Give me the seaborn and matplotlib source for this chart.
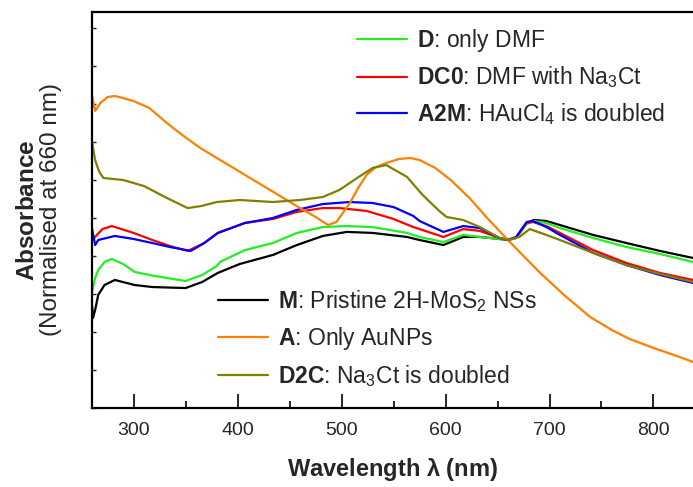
import numpy as np
import pandas as pd
import matplotlib
matplotlib.use("Agg")
import matplotlib.pyplot as plt
from matplotlib.lines import Line2D
from matplotlib.ticker import MultipleLocator, NullFormatter
import seaborn as sns

# ---- data (normalised absorbance, 1.0 at 660 nm) ----
wl_M = [260, 261, 263, 266, 272, 282, 301, 318, 350, 366, 381, 402, 434, 457, 482, 505, 530, 563, 575, 598, 617, 633, 652, 660, 668, 678, 685, 697, 710, 742, 774, 806, 838]
ab_M = [0.613, 0.536, 0.583, 0.673, 0.732, 0.762, 0.732, 0.720, 0.714, 0.750, 0.804, 0.857, 0.911, 0.970, 1.024, 1.048, 1.042, 1.018, 1.000, 0.970, 1.018, 1.018, 1.006, 1.000, 1.012, 1.101, 1.119, 1.113, 1.089, 1.030, 0.982, 0.935, 0.893]

wl_D = [260, 263, 266, 272, 279, 290, 301, 320, 350, 366, 380, 383, 407, 434, 457, 482, 505, 530, 563, 575, 598, 617, 633, 652, 660, 668, 678, 685, 697, 710, 742, 774, 806, 838]
ab_D = [0.690, 0.774, 0.821, 0.869, 0.887, 0.857, 0.810, 0.786, 0.756, 0.792, 0.845, 0.869, 0.940, 0.982, 1.042, 1.077, 1.083, 1.077, 1.042, 1.018, 0.988, 1.030, 1.018, 1.006, 1.000, 1.012, 1.095, 1.113, 1.101, 1.071, 1.012, 0.958, 0.917, 0.869]

wl_DC0 = [260, 262, 270, 279, 300, 318, 335, 352, 368, 381, 407, 434, 457, 482, 498, 524, 550, 569, 575, 598, 617, 633, 652, 660, 668, 678, 684, 697, 710, 742, 774, 806, 838]
ab_DC0 = [1.030, 1.012, 1.065, 1.083, 1.042, 1.000, 0.964, 0.935, 0.982, 1.042, 1.101, 1.125, 1.167, 1.190, 1.190, 1.173, 1.125, 1.077, 1.065, 1.018, 1.065, 1.054, 1.012, 1.000, 1.018, 1.101, 1.107, 1.083, 1.042, 0.940, 0.863, 0.804, 0.762]

wl_A2M = [260, 263, 266, 282, 300, 318, 335, 355, 368, 381, 407, 434, 457, 482, 508, 530, 550, 569, 575, 598, 617, 633, 652, 660, 668, 678, 684, 697, 710, 742, 774, 806, 838]
ab_A2M = [1.071, 0.970, 1.000, 1.024, 1.006, 0.982, 0.958, 0.935, 0.982, 1.042, 1.101, 1.131, 1.179, 1.214, 1.226, 1.220, 1.196, 1.143, 1.113, 1.048, 1.083, 1.071, 1.012, 1.000, 1.018, 1.107, 1.113, 1.077, 1.030, 0.923, 0.851, 0.792, 0.744]

wl_A = [260, 263, 268, 275, 282, 290, 300, 315, 332, 348, 364, 380, 396, 412, 428, 444, 460, 475, 487, 495, 508, 516, 524, 532, 540, 555, 566, 575, 590, 605, 623, 640, 660, 674, 691, 715, 739, 760, 777, 800, 820, 838]
ab_A = [1.863, 1.768, 1.815, 1.851, 1.857, 1.845, 1.827, 1.786, 1.696, 1.619, 1.548, 1.488, 1.429, 1.369, 1.310, 1.250, 1.190, 1.137, 1.089, 1.107, 1.220, 1.310, 1.387, 1.429, 1.452, 1.482, 1.488, 1.476, 1.429, 1.357, 1.250, 1.131, 1.000, 0.911, 0.804, 0.667, 0.542, 0.464, 0.411, 0.357, 0.315, 0.274]

wl_D2C = [260, 263, 267, 271, 290, 310, 332, 352, 365, 380, 402, 434, 460, 482, 498, 515, 530, 543, 563, 578, 585, 595, 601, 617, 633, 652, 660, 671, 681, 697, 710, 720, 742, 774, 806, 838]
ab_D2C = [1.583, 1.476, 1.405, 1.369, 1.357, 1.321, 1.250, 1.190, 1.202, 1.226, 1.238, 1.226, 1.238, 1.256, 1.298, 1.369, 1.429, 1.446, 1.375, 1.268, 1.226, 1.167, 1.137, 1.119, 1.077, 1.012, 1.000, 1.018, 1.065, 1.030, 1.000, 0.976, 0.923, 0.851, 0.798, 0.750]

labels = {
    "M": r"$\mathbf{M}$: Pristine 2H-MoS$_2$ NSs",
    "A": r"$\mathbf{A}$: Only AuNPs",
    "D2C": r"$\mathbf{D2C}$: Na$_3$Ct is doubled",
    "D": r"$\mathbf{D}$: only DMF",
    "DC0": r"$\mathbf{DC0}$: DMF with Na$_3$Ct",
    "A2M": r"$\mathbf{A2M}$: HAuCl$_4$ is doubled",
}
colors = {"M": "#000000", "D": "#22EE22", "DC0": "#FF0000",
          "A2M": "#0000FF", "A": "#FF8000", "D2C": "#808000"}

series = [("M", wl_M, ab_M), ("D", wl_D, ab_D), ("DC0", wl_DC0, ab_DC0),
          ("A2M", wl_A2M, ab_A2M), ("A", wl_A, ab_A), ("D2C", wl_D2C, ab_D2C)]
frames = [pd.DataFrame({"wl": w, "ab": a, "sample": k}) for k, w, a in series]
df = pd.concat(frames, ignore_index=True)

sns.set_theme(style="white")
plt.rcParams["font.family"] = ["Liberation Sans", "DejaVu Sans"]
plt.rcParams["mathtext.fontset"] = "custom"
plt.rcParams["mathtext.rm"] = "Liberation Sans"
plt.rcParams["mathtext.it"] = "Liberation Sans:italic"
plt.rcParams["mathtext.bf"] = "Liberation Sans:bold"

fig = plt.figure(figsize=(6.93, 4.87), dpi=100)
ax = fig.add_axes([92/693, 79/487, 601/693, 396/487])

sns.lineplot(data=df, x="wl", y="ab", hue="sample", palette=colors,
             hue_order=[s[0] for s in series], estimator=None, sort=False,
             legend=False, linewidth=1.6, ax=ax)

ax.set_xlim(260, 838)
ax.set_ylim(0, 2.357)

ax.xaxis.set_major_locator(MultipleLocator(100))
ax.xaxis.set_minor_locator(MultipleLocator(50))
ax.yaxis.set_major_locator(MultipleLocator(0.2262))
ax.yaxis.set_major_formatter(NullFormatter())
ax.tick_params(axis="x", which="major", direction="in", length=10, width=1.4,
               labelsize=14, pad=10, bottom=True, top=False)
ax.tick_params(axis="x", which="minor", direction="in", length=5, width=1.4,
               bottom=True, top=False)
ax.tick_params(axis="y", which="major", direction="in", length=3, width=1.0,
               left=True, right=False)

for side in ["left", "bottom", "top"]:
    ax.spines[side].set_color("black")
    ax.spines[side].set_linewidth(1.6)
ax.spines["right"].set_visible(False)

ax.set_xlabel(r"Wavelength $\mathbf{\lambda}$ (nm)", fontsize=17, fontweight="bold", labelpad=12)
ax.set_ylabel(r"$\mathbf{Absorbance}$" + "\n(Normalised at 660 nm)", fontsize=17.5,
              labelpad=18, linespacing=1.05)

def handles(keys):
    return [Line2D([0], [0], color=colors[k], lw=1.6) for k in keys]

up = ["D", "DC0", "A2M"]
lo = ["M", "A", "D2C"]
leg1 = ax.legend(handles(up), [labels[k] for k in up], loc="upper left",
                 bbox_to_anchor=(0.441, 0.962), frameon=False, fontsize=16.5,
                 handlelength=2.2, handletextpad=0.4, borderpad=0,
                 borderaxespad=0, labelspacing=0.46)
ax.add_artist(leg1)
ax.legend(handles(lo), [labels[k] for k in lo], loc="upper left",
          bbox_to_anchor=(0.2097, 0.303), frameon=False, fontsize=16.5,
          handlelength=2.2, handletextpad=0.4, borderpad=0,
          borderaxespad=0, labelspacing=0.48)

fig.savefig("out.png", dpi=100)
